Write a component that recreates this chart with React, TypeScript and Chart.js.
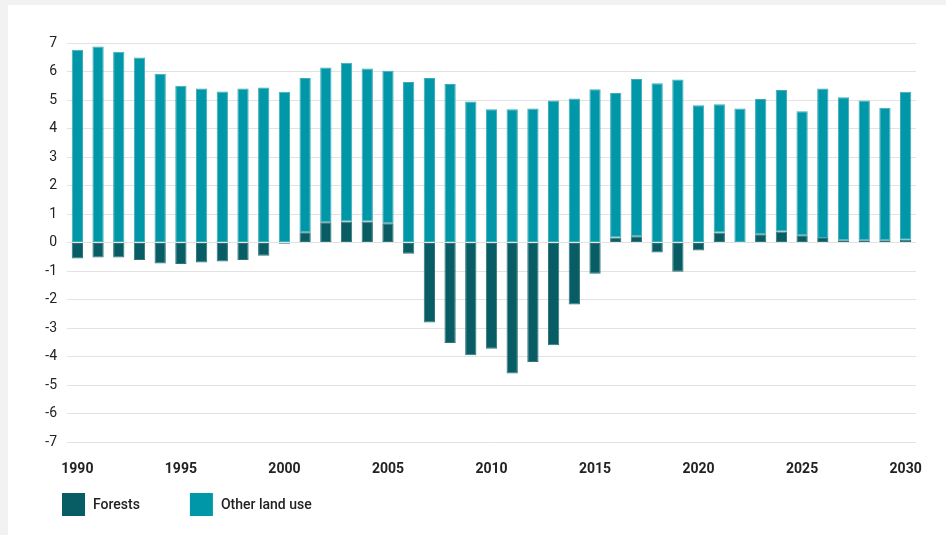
import React, { useEffect, useRef } from "react";
import { Chart, registerables } from "chart.js";

Chart.register(...registerables);

const years: string[] = [];
for (let y = 1990; y <= 2030; y++) years.push(String(y));

const forests: number[] = [
  -0.56, -0.52, -0.52, -0.61, -0.73, -0.75, -0.70, -0.66, -0.61, -0.46,
  -0.04, 0.36, 0.71, 0.74, 0.74, 0.68, -0.39, -2.80, -3.52, -3.95,
  -3.72, -4.59, -4.19, -3.60, -2.17, -1.09, 0.18, 0.22, -0.35, -1.02,
  -0.28, 0.35, 0.0, 0.29, 0.39, 0.26, 0.16, 0.08, 0.08, 0.08,
  0.10,
];

const otherLandUse: number[] = [
  6.76, 6.88, 6.69, 6.49, 5.92, 5.50, 5.40, 5.30, 5.40, 5.44,
  5.29, 5.41, 5.43, 5.57, 5.37, 5.35, 5.63, 5.77, 5.56, 4.95,
  4.68, 4.68, 4.70, 4.98, 5.05, 5.38, 5.07, 5.52, 5.59, 5.72,
  4.82, 4.50, 4.70, 4.75, 4.96, 4.35, 5.24, 5.02, 4.90, 4.65,
  5.19,
];

const seriesNames = ["Forests", "Other land use"];
const seriesColors = ["#075d63", "#0097a8"];
const seriesBorders = ["#2f7479", "#40abb8"];

const FONT = "Roboto, 'Noto Sans', sans-serif";

const legendPlugin = {
  id: "customLegend",
  afterDraw(chart: any) {
    const ctx = chart.ctx as CanvasRenderingContext2D;
    ctx.save();
    ctx.font = `500 14px ${FONT}`;
    ctx.textBaseline = "middle";
    ctx.textAlign = "left";
    let x = 54;
    const y = 488;
    const box = 23;
    chart.data.datasets.forEach((ds: any) => {
      ctx.fillStyle = ds.backgroundColor;
      ctx.fillRect(x, y, box, box);
      ctx.fillStyle = "#222222";
      const tx = x + box + 8;
      ctx.fillText(ds.label, tx, y + box / 2 + 1);
      x = tx + ctx.measureText(ds.label).width + 50;
    });
    ctx.restore();
  },
};

export default function App() {
  const canvasRef = useRef<HTMLCanvasElement | null>(null);

  useEffect(() => {
    if (!canvasRef.current) return;
    const chart = new Chart(canvasRef.current, {
      type: "bar",
      data: {
        labels: years,
        datasets: [
          {
            label: seriesNames[0],
            data: forests,
            backgroundColor: seriesColors[0],
            borderColor: seriesBorders[0],
            borderWidth: 1,
            borderSkipped: false,
          },
          {
            label: seriesNames[1],
            data: otherLandUse,
            backgroundColor: seriesColors[1],
            borderColor: seriesBorders[1],
            borderWidth: 1,
            borderSkipped: false,
          },
        ],
      },
      options: {
        responsive: false,
        animation: false,
        layout: { padding: { top: 38, right: 30, bottom: 38, left: 0 } },
        datasets: {
          bar: { categoryPercentage: 1, barPercentage: 0.545 },
        },
        plugins: {
          legend: { display: false },
          tooltip: { enabled: false },
          title: { display: false },
        },
        scales: {
          x: {
            stacked: true,
            offset: true,
            grid: { display: false, drawTicks: false },
            border: { display: false },
            ticks: {
              autoSkip: false,
              maxRotation: 0,
              padding: 19,
              color: "#222222",
              font: { family: FONT, size: 14, weight: "bold" },
              callback: (_v: any, i: number) =>
                Number(years[i]) % 5 === 0 ? years[i] : "",
            },
          },
          y: {
            stacked: true,
            min: -7,
            max: 7,
            afterFit: (scale: any) => {
              scale.width = 59;
            },
            grid: { color: "#e2e2e2", lineWidth: 1, drawTicks: false },
            border: { display: false },
            ticks: {
              stepSize: 1,
              padding: 10,
              color: "#222222",
              font: { family: FONT, size: 14 },
            },
          },
        },
      },
      plugins: [legendPlugin],
    });
    return () => chart.destroy();
  }, []);

  return (
    <div style={{ position: "fixed", inset: 0, background: "#f2f2f2" }}>
      <div
        style={{
          position: "absolute",
          left: 8,
          top: 5,
          width: 938,
          height: 530,
          background: "#ffffff",
        }}
      >
        <canvas ref={canvasRef} width={938} height={530} style={{ display: "block" }} />
      </div>
    </div>
  );
}
